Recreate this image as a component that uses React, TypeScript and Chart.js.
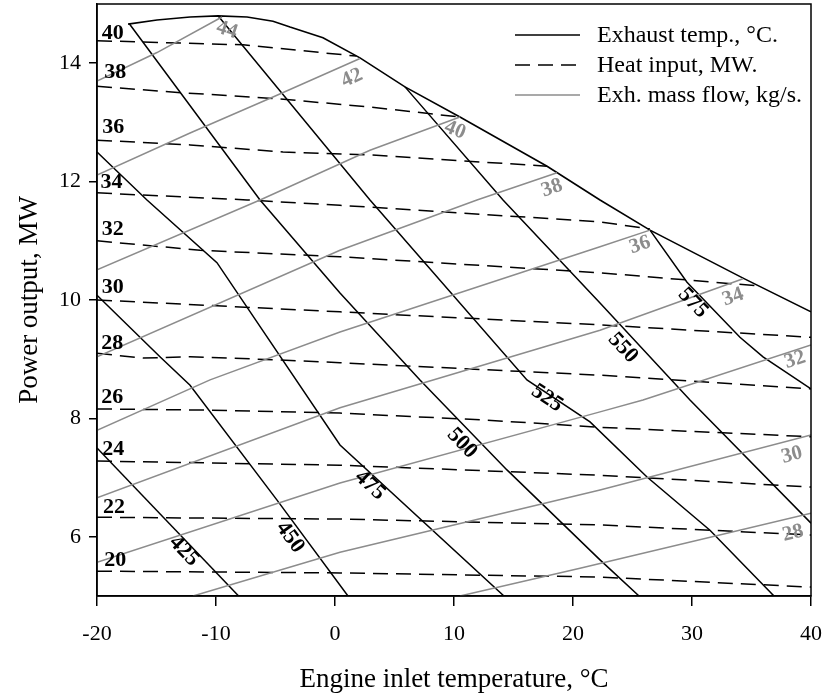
import { useEffect, useRef } from 'react';
import { Chart, registerables } from 'chart.js';

Chart.register(...registerables);

type Pt = [number, number];

const SERIF = "'Liberation Serif', 'Times New Roman', serif";
const GRAY = '#8c8c8c';

// Axis ticks
const xTicks = [-20, -10, 0, 10, 20, 30, 40];
const yTicks = [6, 8, 10, 12, 14];

// Upper operating limit of the engine (x: inlet temp °C, y: power MW)
const limitCurve: Pt[] = [
  [-17.39, 14.66], [-14.96, 14.73], [-12.18, 14.78], [-9.83, 14.8], [-7.39, 14.78],
  [-5.21, 14.71], [-3.78, 14.61], [-1.01, 14.43], [2.1, 14.09], [5.88, 13.6],
  [10.5, 13.09], [17.82, 12.26], [22.27, 11.69], [26.47, 11.18], [34.29, 10.37], [40, 9.8],
];

// Exhaust temperature isolines, °C
const exhaustLevels = [425, 450, 475, 500, 525, 550, 575];
const exhaust425: Pt[] = [[-20, 7.5], [-8.1, 5.0]];
const exhaust450: Pt[] = [[-20, 10.08], [-14.71, 9.04], [-12.18, 8.56], [-4.87, 6.62], [1.09, 5.0]];
const exhaust475: Pt[] = [[-20, 12.5], [-15.8, 11.69], [-9.92, 10.63], [0.42, 7.55], [14.2, 5.0]];
const exhaust500: Pt[] = [[-17.3, 14.67], [-6.3, 11.69], [0.42, 10.12], [7.14, 8.65], [14.45, 7.13], [22.27, 5.61], [25.55, 5.0]];
const exhaust525: Pt[] = [[-9.83, 14.8], [2.94, 11.69], [16.13, 8.65], [21.43, 7.94], [26.22, 7.01], [31.51, 6.11], [36.89, 5.0]];
const exhaust550: Pt[] = [[5.88, 13.6], [14.12, 11.69], [22.27, 9.95], [29.83, 8.31], [40, 6.23]];
const exhaust575: Pt[] = [[26.47, 11.18], [29.58, 10.3], [34.03, 9.37], [35.97, 9.04], [40, 8.5]];
const exhaustLines = [exhaust425, exhaust450, exhaust475, exhaust500, exhaust525, exhaust550, exhaust575];
const exhaustLabelX = [-12.69, -3.78, 2.94, 10.67, 17.82, 24.2, 30.08];
const exhaustLabelY = [5.76, 5.99, 6.87, 7.58, 8.34, 9.19, 9.95];

// Heat input isolines, MW
const heatLevels = [40, 38, 36, 34, 32, 30, 28, 26, 24, 22, 20];
const heat40: Pt[] = [[-20, 14.38], [-7.73, 14.31], [1.8, 14.12]];
const heat38: Pt[] = [[-20, 13.61], [-12.77, 13.5], [-4.87, 13.4], [2.94, 13.26], [10.5, 13.09]];
const heat36: Pt[] = [[-20, 12.7], [-12.18, 12.62], [-4.37, 12.5], [2.94, 12.45], [17.82, 12.26]];
const heat34: Pt[] = [[-20, 11.81], [-7.39, 11.69], [0.42, 11.6], [22.27, 11.32], [26.47, 11.2]];
const heat32: Pt[] = [[-20, 11.0], [-11.34, 10.84], [0.42, 10.73], [22.27, 10.46], [35.46, 10.24]];
const heat30: Pt[] = [[-20, 10.0], [0.42, 9.8], [22.27, 9.58], [40, 9.37]];
const heat28: Pt[] = [[-20, 9.1], [-16.13, 9.02], [-12.18, 9.04], [-4.87, 8.99], [0.42, 8.94], [22.27, 8.73], [40, 8.5]];
const heat26: Pt[] = [[-20, 8.16], [-10.5, 8.14], [0.42, 8.09], [12.77, 7.97], [22.27, 7.85], [40, 7.69]];
const heat24: Pt[] = [[-20, 7.28], [0.42, 7.21], [22.27, 7.04], [40, 6.84]];
const heat22: Pt[] = [[-20, 6.33], [0.42, 6.3], [22.27, 6.2], [40, 6.03]];
const heat20: Pt[] = [[-20, 5.42], [0.42, 5.39], [22.27, 5.32], [40, 5.15]];
const heatLines = [heat40, heat38, heat36, heat34, heat32, heat30, heat28, heat26, heat24, heat22, heat20];
const heatLabelX = [-19.6, -19.4, -19.55, -19.7, -19.6, -19.6, -19.65, -19.65, -19.55, -19.5, -19.4];
const heatLabelY = [14.51, 13.85, 12.91, 11.99, 11.2, 10.22, 9.27, 8.36, 7.47, 6.49, 5.61];

// Exhaust mass flow isolines, kg/s
const flowLevels = [44, 42, 40, 38, 36, 34, 32, 30, 28];
const flow44: Pt[] = [[-20, 13.7], [-14.96, 14.18], [-9.5, 14.78]];
const flow42: Pt[] = [[-20, 12.11], [-12.18, 12.82], [-5.21, 13.43], [2.1, 14.08]];
const flow40: Pt[] = [[-20, 10.51], [-6.3, 11.69], [2.94, 12.53], [10.5, 13.09]];
const flow38: Pt[] = [[-20, 9.04], [0.42, 10.84], [11.93, 11.69], [18.66, 12.15]];
const flow36: Pt[] = [[-20, 7.8], [-10.5, 8.65], [0.42, 9.46], [22.27, 10.9], [26.47, 11.18]];
const flow34: Pt[] = [[-20, 6.66], [0.42, 8.18], [22.27, 9.49], [34.29, 10.36]];
const flow32: Pt[] = [[-20, 5.57], [0.42, 6.91], [22.27, 8.11], [25.88, 8.31], [40, 9.24]];
const flow30: Pt[] = [[-11.93, 5.0], [0.42, 5.74], [22.27, 6.79], [40, 7.72]];
const flow28: Pt[] = [[10.5, 5.0], [20.59, 5.47], [40, 6.4]];
const flowLines = [flow44, flow42, flow40, flow38, flow36, flow34, flow32, flow30, flow28];
const flowLabelX = [-9.08, 1.43, 10.08, 18.24, 25.63, 33.45, 38.66, 38.4, 38.49];
const flowLabelY = [14.56, 13.75, 12.87, 11.89, 10.93, 10.05, 8.99, 7.38, 6.06];

// labels near the limit curve are turned with the curve rather than their isoline
const flowLabelTurn: Record<number, number> = { 44: 18, 40: 22 };

const legendRows = [
  { text: 'Exhaust temp., °C.', color: '#000', dash: [] as number[] },
  { text: 'Heat input, MW.', color: '#000', dash: [15, 8] },
  { text: 'Exh. mass flow, kg/s.', color: GRAY, dash: [] as number[] },
];

const toXY = (pts: Pt[]) => pts.map(([x, y]) => ({ x, y }));

function lineSet(pts: Pt[], color: string, dash: number[], width = 1.5) {
  return {
    data: toXY(pts),
    showLine: true,
    borderColor: color,
    borderWidth: width,
    borderDash: dash,
    pointRadius: 0,
    fill: false,
    tension: 0,
  };
}

// Direction of the isoline segment nearest to a label anchor, in canvas space
function angleAlong(line: Pt[], x: number, y: number, xs: any, ys: any) {
  const ax = xs.getPixelForValue(x);
  const ay = ys.getPixelForValue(y);
  let best = Infinity;
  let ang = 0;
  for (let i = 0; i < line.length - 1; i++) {
    const x1 = xs.getPixelForValue(line[i][0]);
    const y1 = ys.getPixelForValue(line[i][1]);
    const x2 = xs.getPixelForValue(line[i + 1][0]);
    const y2 = ys.getPixelForValue(line[i + 1][1]);
    const dx = x2 - x1;
    const dy = y2 - y1;
    const t = Math.max(0, Math.min(1, ((ax - x1) * dx + (ay - y1) * dy) / (dx * dx + dy * dy)));
    const d = Math.hypot(ax - (x1 + t * dx), ay - (y1 + t * dy));
    if (d < best) {
      best = d;
      ang = Math.atan2(dy, dx);
    }
  }
  if (ang > Math.PI / 2) ang -= Math.PI;
  if (ang < -Math.PI / 2) ang += Math.PI;
  return ang;
}

const contourLabels = {
  id: 'contourLabels',
  afterDatasetsDraw(chart: any) {
    const { ctx, scales } = chart;
    const xs = scales.x;
    const ys = scales.y;
    ctx.save();
    ctx.textAlign = 'center';
    ctx.textBaseline = 'middle';

    ctx.font = `bold 22px ${SERIF}`;
    ctx.fillStyle = '#000';
    exhaustLevels.forEach((lvl, i) => {
      const px = xs.getPixelForValue(exhaustLabelX[i]);
      const py = ys.getPixelForValue(exhaustLabelY[i]);
      const a = angleAlong(exhaustLines[i], exhaustLabelX[i], exhaustLabelY[i], xs, ys);
      ctx.save();
      ctx.translate(px, py);
      ctx.rotate(a);
      ctx.fillText(String(lvl), 0, 0);
      ctx.restore();
    });

    ctx.font = `bold 21px ${SERIF}`;
    ctx.fillStyle = GRAY;
    flowLevels.forEach((lvl, i) => {
      const px = xs.getPixelForValue(flowLabelX[i]);
      const py = ys.getPixelForValue(flowLabelY[i]);
      const turn = flowLabelTurn[lvl];
      const a = turn !== undefined
        ? (turn * Math.PI) / 180
        : angleAlong(flowLines[i], flowLabelX[i], flowLabelY[i], xs, ys);
      ctx.save();
      ctx.translate(px, py);
      ctx.rotate(a);
      ctx.fillText(String(lvl), 0, 0);
      ctx.restore();
    });

    ctx.font = `bold 22px ${SERIF}`;
    ctx.fillStyle = '#000';
    ctx.textAlign = 'left';
    heatLevels.forEach((lvl, i) => {
      ctx.fillText(String(lvl), xs.getPixelForValue(heatLabelX[i]), ys.getPixelForValue(heatLabelY[i]));
    });
    ctx.restore();
  },
  afterDraw(chart: any) {
    const { ctx, chartArea } = chart;
    ctx.save();
    // frame around the plot
    ctx.strokeStyle = '#000';
    ctx.lineWidth = 1.5;
    ctx.strokeRect(chartArea.left, chartArea.top, chartArea.right - chartArea.left, chartArea.bottom - chartArea.top);

    // legend
    ctx.font = `24px ${SERIF}`;
    ctx.textAlign = 'left';
    ctx.textBaseline = 'middle';
    legendRows.forEach((row, i) => {
      const y = 35 + i * 30;
      ctx.beginPath();
      ctx.setLineDash(row.dash);
      ctx.strokeStyle = row.color;
      ctx.lineWidth = 1.5;
      ctx.moveTo(515, y);
      ctx.lineTo(580, y);
      ctx.stroke();
      ctx.setLineDash([]);
      ctx.fillStyle = '#000';
      ctx.fillText(row.text, 597, y + 1);
    });
    ctx.restore();
  },
};

export default function App() {
  const ref = useRef<HTMLCanvasElement>(null);

  useEffect(() => {
    document.body.style.margin = '0';
    const datasets = [
      ...flowLines.map((l) => lineSet(l, GRAY, [], 1.5)),
      ...heatLines.map((l) => lineSet(l, '#000', [15, 8], 1.5)),
      ...exhaustLines.map((l) => lineSet(l, '#000', [], 1.5)),
      lineSet(limitCurve, '#000', [], 1.6),
    ];

    const chart = new Chart(ref.current as HTMLCanvasElement, {
      type: 'scatter',
      data: { datasets } as any,
      options: {
        animation: false,
        responsive: false,
        layout: { padding: { top: 4, right: 23, left: 0, bottom: 0 } },
        plugins: { legend: { display: false }, tooltip: { enabled: false } },
        scales: {
          x: {
            type: 'linear',
            min: -20,
            max: 40,
            afterBuildTicks: (s: any) => {
              s.ticks = xTicks.map((v) => ({ value: v }));
            },
            afterFit: (s: any) => {
              s.height = 101;
              s.paddingLeft = 0;
              s.paddingRight = 0;
            },
            ticks: { color: '#000', font: { family: SERIF, size: 22 }, padding: 15 },
            grid: { drawOnChartArea: false, drawTicks: true, tickLength: 10, color: '#000', lineWidth: 1.5 },
            border: { color: '#000', width: 1.5 },
            title: {
              display: true,
              text: 'Engine inlet temperature, °C',
              color: '#000',
              font: { family: SERIF, size: 27, weight: 'normal' },
              padding: { top: 0, bottom: 1 },
            },
          },
          y: {
            type: 'linear',
            min: 5,
            max: 15,
            afterBuildTicks: (s: any) => {
              s.ticks = yTicks.map((v) => ({ value: v }));
            },
            afterFit: (s: any) => {
              s.width = 97;
              s.paddingTop = 0;
              s.paddingBottom = 0;
            },
            ticks: { color: '#000', font: { family: SERIF, size: 22 }, padding: 8 },
            grid: { drawOnChartArea: false, drawTicks: true, tickLength: 8, color: '#000', lineWidth: 1.5 },
            border: { color: '#000', width: 1.5 },
            title: {
              display: true,
              text: 'Power output, MW',
              color: '#000',
              font: { family: SERIF, size: 27, weight: 'normal' },
              padding: { top: 14, bottom: 0 },
            },
          },
        },
      } as any,
      plugins: [contourLabels],
    });

    return () => chart.destroy();
  }, []);

  return (
    <div style={{ width: 834, height: 697 }}>
      <canvas ref={ref} width={834} height={697} style={{ display: 'block' }} />
    </div>
  );
}
